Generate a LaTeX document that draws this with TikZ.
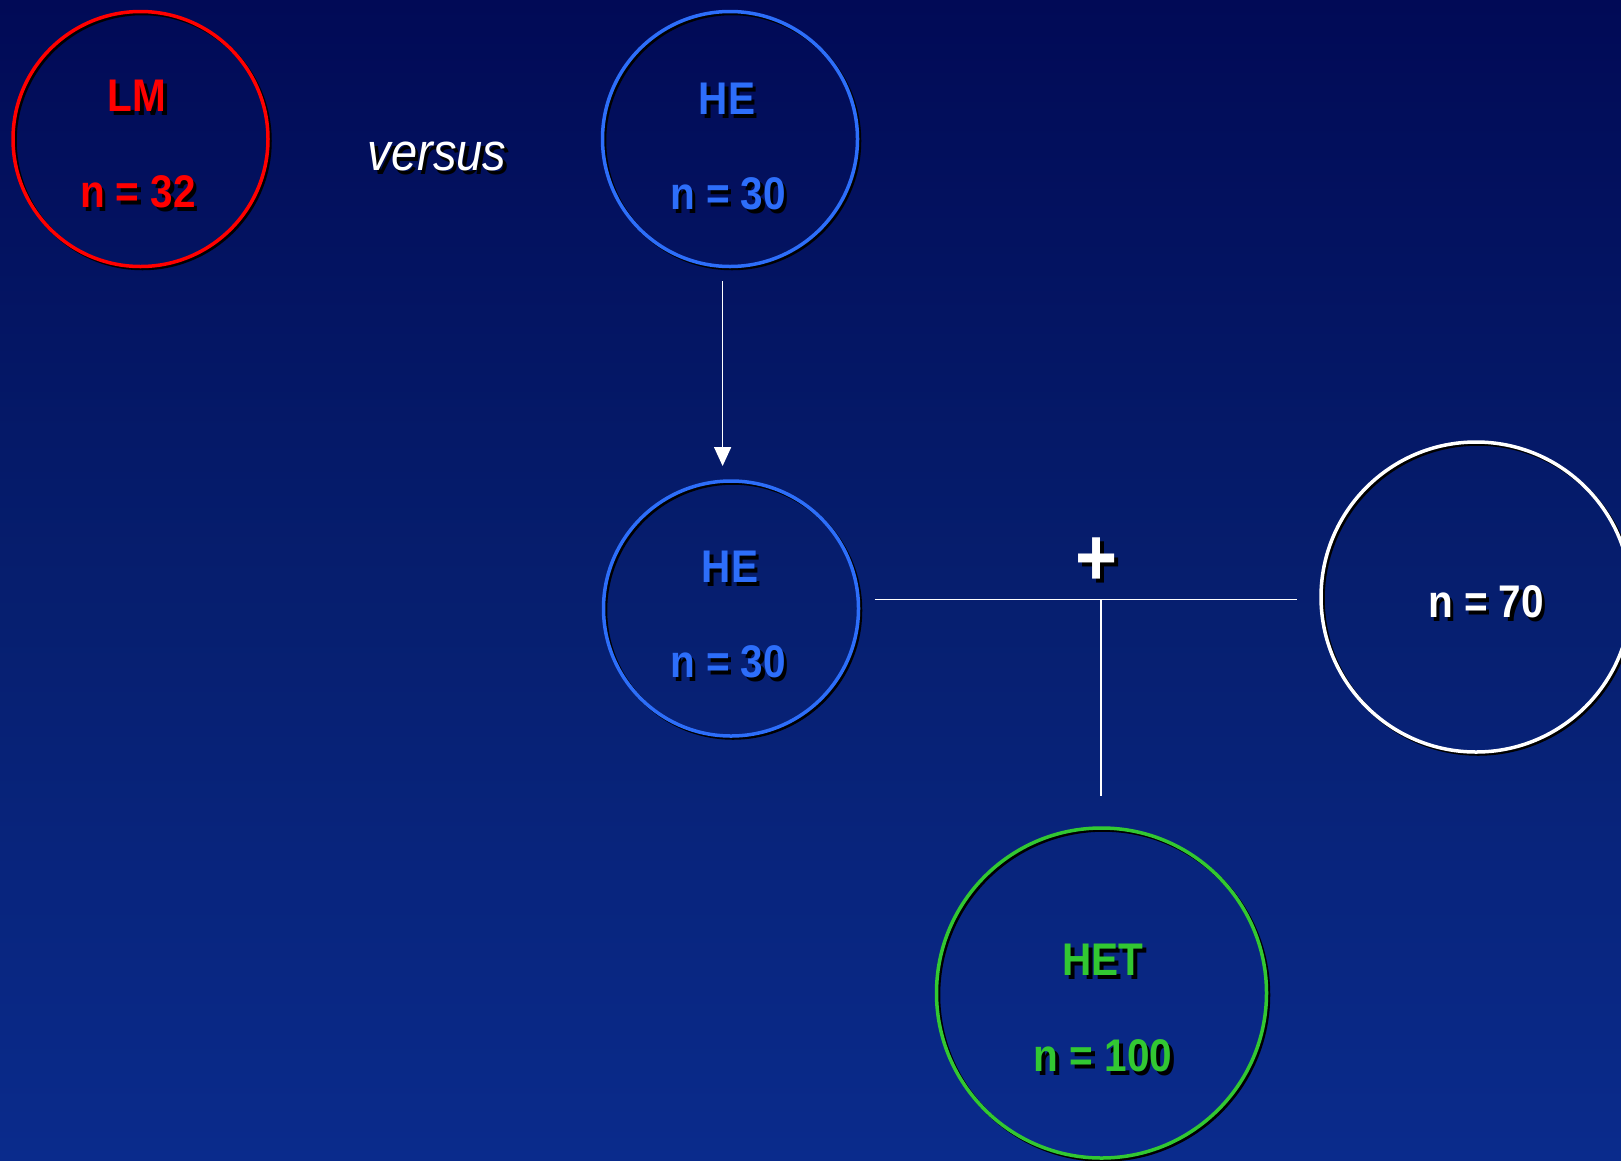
\documentclass[tikz,border=0pt]{standalone}
\usepackage{fontspec}
\setmainfont{Liberation Sans}
\usetikzlibrary{arrows.meta}
\definecolor{bgtop}{RGB}{1,10,86}
\definecolor{bgmid}{RGB}{6,30,110}
\definecolor{bgbot}{RGB}{10,43,140}
\definecolor{heblue}{RGB}{45,110,250}
\definecolor{lmred}{RGB}{255,0,0}
\definecolor{hetgreen}{RGB}{50,200,50}
\newcommand{\shtxt}[1]{\scalebox{1}[1.13]{\rlap{\kern3.5pt\raisebox{-3.5pt}{\color{black}#1}}#1}}
\begin{document}
\begin{tikzpicture}[x=1pt,y=-1pt,
  ring/.style={circle, draw=#1, line width=3.5pt, inner sep=0pt},
  ringshadow/.style={draw=black, line width=3.5pt},
  lbl/.style={text=#1, font=\fontsize{40.5}{48}\selectfont\bfseries, inner sep=0pt},
  conn/.style={draw=white, line width=1.6pt},
  arr/.style={draw=white, line width=1.6pt, -{Triangle[width=17pt,length=19pt]}}]
\useasboundingbox (0,0) rectangle (1621,1160);
\shade[top color=bgtop, bottom color=bgbot, middle color=bgmid] (0,0) rectangle (1621,1160);
% ring shadows
\draw[ringshadow] (142.5,141) circle[radius=127.5];
\draw[ringshadow] (732,141) circle[radius=127.5];
\draw[ringshadow] (733,610.5) circle[radius=127.5];
\draw[ringshadow] (1478,599) circle[radius=155];
\draw[ringshadow] (1103.5,995) circle[radius=165];
% rings
\node[ring=lmred, minimum size=255pt] (lm) at (140.5,139) {};
\node[ring=heblue, minimum size=255pt] (he1) at (730,139) {};
\node[ring=heblue, minimum size=255pt] (he2) at (731,608.5) {};
\node[ring=white, minimum size=310pt] (n70) at (1476,597) {};
\node[ring=hetgreen, minimum size=330pt] (het) at (1101.5,993) {};
% labels
\node[lbl=lmred] (lmA) at (137,97.5) {\shtxt{LM}};
\node[lbl=lmred] (lmB) at (138,193.5) {\shtxt{n = 32}};
\node[lbl=heblue] (he1A) at (727,100.5) {\shtxt{HE}};
\node[lbl=heblue] (he1B) at (728,195.5) {\shtxt{n = 30}};
\node[lbl=heblue] (he2A) at (730,569) {\shtxt{HE}};
\node[lbl=heblue] (he2B) at (728,664) {\shtxt{n = 30}};
\node[lbl=white] (n70A) at (1486,604) {\shtxt{n = 70}};
\node[lbl=hetgreen] (hetA) at (1103,962) {\shtxt{HET}};
\node[lbl=hetgreen] (hetB) at (1103,1058) {\shtxt{n = 100}};
\node[text=white, font=\fontsize{47}{56}\selectfont\itshape, inner sep=0pt] (vs) at (437,158) {\shtxt{versus}};
\node[text=white, font=\fontsize{72}{80}\selectfont\bfseries, inner sep=0pt] (plus) at (1097,564) {\shtxt{+}};
% connectors
\coordinate (a1) at (722.6,281);
\coordinate (a2) at (722.6,466);
\draw[arr] (a1) -- (a2);
\coordinate (h1) at (874.6,599.6);
\coordinate (h2) at (1297.4,599.6);
\coordinate (j) at (1101,599.6);
\coordinate (v2) at (1101,796);
\draw[conn] (h1) -- (h2);
\draw[conn] (j) -- (v2);
\end{tikzpicture}
\end{document}
